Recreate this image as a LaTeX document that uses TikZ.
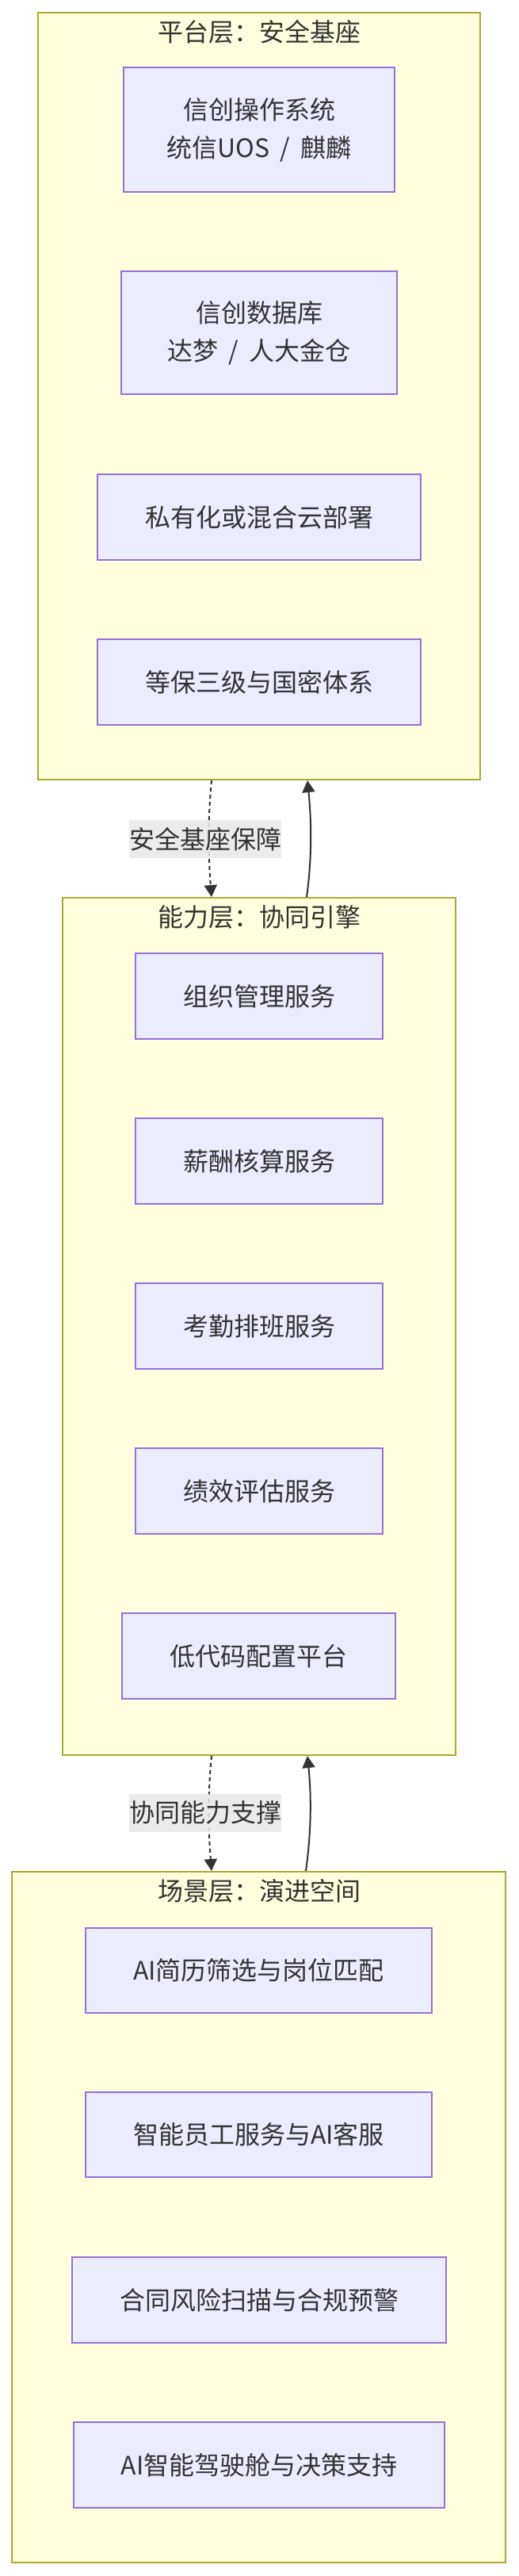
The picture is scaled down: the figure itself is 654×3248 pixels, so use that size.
\documentclass[tikz,border=0pt]{standalone}
\usepackage{fontspec}
\setmainfont{Noto Sans CJK SC}
\usetikzlibrary{arrows.meta}
\definecolor{clfill}{HTML}{FFFFDE}
\definecolor{clline}{HTML}{AAAA33}
\definecolor{ndfill}{HTML}{ECECFF}
\definecolor{ndline}{HTML}{9370DB}
\definecolor{txt}{HTML}{333333}
\definecolor{lblbg}{HTML}{E8E8E8}
\newcommand{\slsep}{\hspace{13pt}/\hspace{13pt}}
\begin{document}
\begin{tikzpicture}[x=1pt,y=-1pt,
  font=\fontsize{32}{48}\selectfont, text=txt,
  cluster/.style={draw=clline,fill=clfill,line width=2pt,inner sep=0pt,rectangle},
  box/.style={draw=ndline,fill=ndfill,line width=2pt,inner sep=0pt,align=center},
  ttl/.style={inner sep=0pt,anchor=center},
  lbl/.style={fill=lblbg,fill opacity=0.85,text opacity=1,inner sep=0pt,minimum width=192pt,minimum height=48pt},
  flow/.style={draw=txt,line width=2pt,-{Triangle[length=15pt,width=16pt]}},
  dotflow/.style={flow,dash pattern=on 5pt off 4pt}]
\useasboundingbox[fill=white] (0,0) rectangle (654,3248);

% clusters
\node[cluster,minimum width=558pt,minimum height=967pt] (plat) at (327,499.5) {};
\node[cluster,minimum width=496pt,minimum height=1081pt] (cap) at (327,1672.5) {};
\node[cluster,minimum width=623pt,minimum height=871pt] (scen) at (326.5,2795.5) {};

% titles
\node[ttl] (tplat) at (327,40) {平台层：安全基座};
\node[ttl] (tcap) at (327,1156) {能力层：协同引擎};
\node[ttl] (tscen) at (327,2384) {场景层：演进空间};

% platform nodes
\node[box,minimum width=342pt,minimum height=157pt] (p1) at (327,163.5) {信创操作系统\\统信UOS\slsep 麒麟};
\node[box,minimum width=348pt,minimum height=155pt] (p2) at (327,419.5) {信创数据库\\达梦\slsep 人大金仓};
\node[box,minimum width=408pt,minimum height=108pt] (p3) at (327,652) {私有化或混合云部署};
\node[box,minimum width=408pt,minimum height=108pt] (p4) at (327,860) {等保三级与国密体系};

% capability nodes
\node[box,minimum width=312pt,minimum height=108pt] (c1) at (327,1256) {组织管理服务};
\node[box,minimum width=312pt,minimum height=108pt] (c2) at (327,1464) {薪酬核算服务};
\node[box,minimum width=312pt,minimum height=108pt] (c3) at (327,1672) {考勤排班服务};
\node[box,minimum width=312pt,minimum height=108pt] (c4) at (327,1880) {绩效评估服务};
\node[box,minimum width=345pt,minimum height=108pt] (c5) at (326.5,2088) {低代码配置平台};

% scenario nodes
\node[box,minimum width=437pt,minimum height=107pt] (s1) at (326.5,2484.5) {AI简历筛选与岗位匹配};
\node[box,minimum width=437pt,minimum height=107pt] (s2) at (326.5,2691.5) {智能员工服务与AI客服};
\node[box,minimum width=472pt,minimum height=108pt] (s3) at (327,2900) {合同风险扫描与合规预警};
\node[box,minimum width=468pt,minimum height=108pt] (s4) at (327,3108) {AI智能驾驶舱与决策支持};

% edges platform <-> capability
\draw[dotflow] ([xshift=-60pt]plat.south) .. controls +(-5,50) and +(-4,-50) .. ([xshift=-60pt]cap.north);
\draw[flow] ([xshift=60pt]cap.north) .. controls +(7,-50) and +(5,50) .. ([xshift=61pt]plat.south);
\node[lbl] (l1) at (259,1058) {安全基座保障};

% edges capability <-> scenario
\draw[dotflow] ([xshift=-60pt]cap.south) .. controls +(-5,50) and +(-4,-50) .. ([xshift=-59.5pt]scen.north);
\draw[flow] ([xshift=59.5pt]scen.north) .. controls +(7,-50) and +(5,50) .. ([xshift=61pt]cap.south);
\node[lbl] (l2) at (259,2285.5) {协同能力支撑};
\end{tikzpicture}
\end{document}
